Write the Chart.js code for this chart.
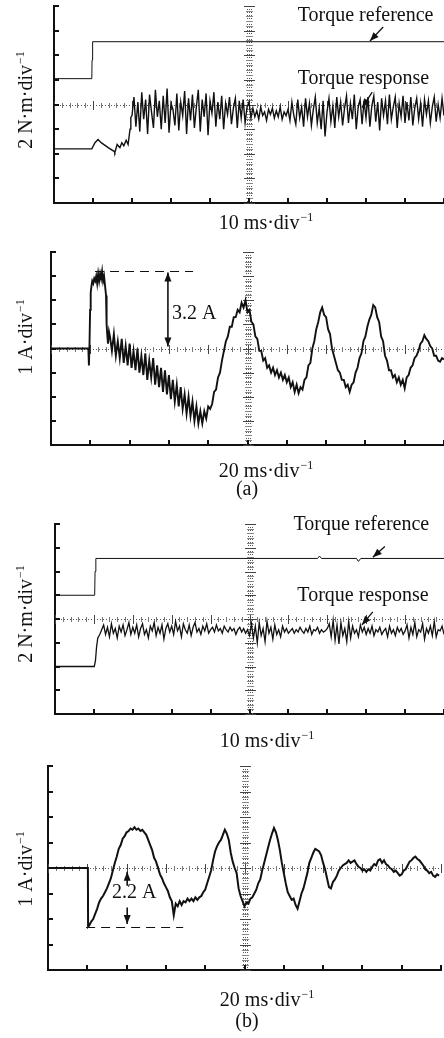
<!DOCTYPE html>
<html>
<head>
<meta charset="utf-8">
<script src="https://cdn.jsdelivr.net/npm/chart.js@4.4.0/dist/chart.umd.min.js"></script>
<style>
  html, body { margin: 0; padding: 0; background: #fff; }
  body { width: 444px; height: 1038px; position: relative; overflow: hidden; }
  canvas { position: absolute; left: 0; }
</style>
</head>
<body>
<canvas id="torqueA" width="444" height="240" style="top:0px"></canvas>
<canvas id="currentA" width="444" height="265" style="top:240px"></canvas>
<canvas id="torqueB" width="444" height="245" style="top:505px"></canvas>
<canvas id="currentB" width="444" height="288" style="top:750px"></canvas>
<script>
// ---- (a) torque, ms / N·m ----
const refATime = [0, 9.7, 9.75, 9.9, 100];
const refAValue = [2.1, 2.1, 3.6, 5.1, 5.1];

const respAHeadTime = [0, 9.7, 10.5, 11.3, 12.1, 13.9, 15.4, 15.6, 16.2, 16.9, 17.4, 17.9, 18.5, 19.0, 19.5, 19.7];
const respAHeadValue = [-3.6, -3.6, -3.1, -2.85, -3.1, -3.5, -3.8, -3.9, -3.25, -3.5, -3.1, -3.35, -2.9, -3.25, -2.0, -1.05];
// sampled every 0.5 ms from 20 ms
const respANoiseStart = 20;
const respANoiseStep = 0.5;
const respANoise = [
  -0.9, 0.6, -1.8, 0.2, -2.2, 1.0, -1.2, 0.4, -2.4, 0.8, -0.6, -1.9, 1.2, -1.0, 0.3, -2.0, 0.7, -1.5, 1.3, -2.3, 0.1,
  -0.4, -1.7, 0.9, -2.1, 0.2, -0.9, 1.1, -2.4, 0.5, -1.3, 0.8, -1.9, -0.2, 1.2, -2.2, 0.4, -1.0, 0.9, -2.5, 0.3,
  -0.7, 1.0, -1.8, 0.2, -1.2, 0.7, -2.0, 0.1, -0.8, 0.6, -1.6, -0.3, 0.5, -1.9, 0.3, -1.1, 0.4, -1.5, -0.2, 0.2,
  -1.1, -0.3, -1.0, -0.5, -1.2, -0.2, -0.9, -0.6, -1.3, -0.4, -0.8, -0.3, -1.1, -0.5, -1.0, -0.2, -1.2, -0.6, -0.9, -0.4,
  -1.3, 0.2, -0.9, -1.6, 0.4, -1.1, -0.2, -1.8, 0.5, -1.0, 0.1, -1.7, -0.4, 0.6, -1.5, -0.3, -2.0, 0.3, -2.6, -0.6,
  0.5, -1.4, -0.1, -1.9, 0.6, -1.0, 0.2, -1.7, -0.3, 0.7, -1.5, 0.1, -1.2, 0.8, -2.0, -0.2, 0.4, -1.6, 0.3, -1.1,
  0.6, -1.8, -0.1, 0.7, -1.4, 0.2, -2.1, 0.5, -0.9, 0.3, -1.6, 0.8, -1.2, -0.2, 0.6, -1.9, 0.1, -1.0, 0.7, -1.5,
  0.2, -1.3, 0.6, -1.7, -0.3, 0.5, -1.2, 0.1, -1.8, 0.4, -0.8, 0.3, -1.5, -0.2, 0.6, -1.4, 0.0, -1.1, 0.5, -0.9
];

// ---- (a) current, ms / A ----
const curAHeadTime = [0, 19.0, 19.3, 19.6, 19.9, 20.2, 20.6, 21.0, 21.5, 22.0, 22.5, 23.0, 23.5, 24.0, 24.5, 25.0, 25.5, 26.0, 26.5, 27.0, 27.5, 28.0, 28.3, 28.6, 29.0, 29.5];
const curAHeadValue = [0, 0, -0.7, 0.2, 1.6, 2.3, 2.6, 2.8, 2.7, 2.9, 2.8, 3.0, 2.7, 3.1, 2.8, 3.1, 2.9, 3.2, 2.8, 3.0, 2.6, 2.2, 1.0, 0.6, 0.2, 0.7];
// sampled every 1 ms from 30 ms
const curATailStart = 30;
const curATailStep = 1;
const curATail = [
  0.5, -0.1, 0.6, -0.3, 0.3, -0.4, 0.4, -0.6, 0.1, -0.7,
  0.2, -0.8, -0.1, -0.9, 0.0, -1.0, -0.3, -1.1, -0.2, -1.3,
  -0.5, -1.2, -0.4, -1.5, -0.7, -1.6, -0.8, -1.8, -0.9, -1.9,
  -1.1, -2.1, -1.3, -2.2, -1.5, -2.4, -1.6, -2.5, -1.9, -2.7,
  -2.0, -2.8, -2.2, -3.0, -2.4, -3.1, -2.6, -3.1, -2.6, -2.9,
  -2.4, -2.5,
  -2.3, -1.8, -1.7, -1.2, -1.0, -0.5, -0.1, 0.3, 0.5, 0.9,
  0.9, 1.3, 1.3, 1.6, 1.5, 1.9, 1.7, 2.0, 1.5, 1.6,
  1.1, 1.0, 0.5, 0.4, -0.1, -0.1, -0.5, -0.4, -0.8, -0.7,
  -1.0, -0.8, -1.1, -0.9, -1.2, -1.0, -1.3, -1.1, -1.4, -1.2,
  -1.6, -1.4, -1.8, -1.5, -1.85, -1.6, -1.7, -1.3, -1.2, -0.7,
  -0.6, 0.0, 0.3, 0.8, 1.1, 1.5, 1.7, 1.4, 1.3, 0.8,
  0.6, 0.0, -0.3, -0.6, -0.9, -1.0, -1.3, -1.3, -1.6, -1.5,
  -1.8, -1.5, -1.4, -1.0, -0.8, -0.4, -0.2, 0.3, 0.5, 0.9,
  1.2, 1.4, 1.8, 1.7, 1.3, 1.1, 0.5, 0.3, -0.3, -0.5,
  -0.9, -0.9, -1.2, -1.1, -1.4, -1.2, -1.5, -1.3, -1.65, -1.2,
  -1.1, -0.8, -0.7, -0.4, -0.3, -0.1, 0.2, 0.3, 0.55, 0.4,
  0.3, 0.1, 0.0, -0.3, -0.3, -0.5, -0.55, -0.4, -0.45
];

// ---- (b) torque, ms / N·m ----
const refBTime = [0, 10.2, 10.3, 10.5, 67.5, 68, 68.5, 77.5, 78, 78.6, 100];
const refBValue = [2.0, 2.0, 4.0, 5.1, 5.1, 5.3, 5.1, 5.1, 4.85, 5.1, 5.1];

const respBHeadTime = [0, 10.1, 10.4, 10.7, 11.0, 11.5];
const respBHeadValue = [-4.0, -4.0, -3.5, -2.3, -1.6, -1.3];
// sampled every 0.5 ms from 12 ms
const respBNoiseStart = 12;
const respBNoiseStep = 0.5;
const respBNoise = [
  -0.9, -0.5, -1.3, -0.7, -1.5, -0.4, -1.2, -0.8, -1.6, -0.6, -1.1, -0.5, -1.4, -0.9, -0.3, -1.3, -0.7,
  -1.2, -0.5, -1.5, -0.8, -0.4, -1.3, -0.9, -1.6, -0.6, -1.0, -0.3, -1.4, -0.7, -1.2, -0.5, -1.7, -0.8, -0.4, -1.1, -0.6,
  -1.3, -0.2, -1.0, -0.6, -1.5, -0.4, -0.9, -1.2, -0.5, -1.4, -0.7, -0.3, -1.1, -0.8, -1.3, -0.6, -1.0, -0.4, -1.2, -0.9,
  -0.7, -1.1, -0.5, -1.0, -0.8, -1.2, -0.6, -0.9, -1.1, -0.7, -1.0, -0.8, -1.3, -0.9, -0.7, -1.1, -0.8, -1.2, -0.9, -1.4,
  -0.4, -1.6, -0.6, -2.0, -0.3, -1.4, -0.8, -1.9, -0.2, -1.2, -0.7, -1.7, -0.5, -1.3, -0.9, -1.5, -0.6, -1.1, -0.8, -1.2,
  -1.0, -0.8, -1.2, -0.9, -1.1, -0.7, -1.0, -1.2, -0.8, -1.1, -0.6, -1.3, -0.9, -1.0, -0.7, -1.2, -0.9, -1.1, -1.0, -0.8,
  -0.4, -1.5, -0.1, -1.8, -0.5, -2.1, -0.3, -1.4, -0.8, -1.9, -0.2, -1.6, -0.6, -1.2, -0.9, -1.5, -0.5, -1.1, -0.7, -1.3,
  -0.8, -1.2, -0.6, -1.4, -0.9, -1.1, -0.7, -1.3, -1.0, -0.8, -1.5, -0.6, -1.2, -0.9, -1.4, -0.7, -1.1, -0.8, -1.3, -1.0,
  -0.5, -1.6, -0.7, -1.3, -0.3, -1.5, -0.9, -1.1, -0.4, -1.7, -0.8, -1.2, -0.6, -1.4, -0.2, -1.5, -0.9, -1.0, -0.6, -1.3
];

// ---- (b) current, ms / A ----
const curBHeadTime = [0, 20.3, 20.4];
const curBHeadValue = [0, 0, -2.3];
// sampled every 1 ms from 21 ms
const curBTailStart = 21;
const curBTailStep = 1;
const curBTail = [
  -2.25, -2.1, -2.0, -1.8, -1.6, -1.35, -1.2, -1.1, -0.95, -0.8,
  -0.6, -0.4, -0.1, 0.2, 0.45, 0.75, 0.9, 1.15, 1.25, 1.4,
  1.45, 1.55, 1.5, 1.6, 1.5, 1.55, 1.45, 1.5, 1.4, 1.3,
  1.1, 0.9, 0.7, 0.4, 0.25, 0.0, -0.25, -0.4, -0.6, -0.75,
  -0.9, -1.15, -1.3, -1.85, -1.4, -1.5, -1.3, -1.45, -1.3, -1.35,
  -1.2, -1.3, -1.2, -1.3, -1.15, -1.25, -1.15, -1.1, -0.95, -0.85,
  -0.6, -0.35, -0.1, 0.3, 0.65, 0.85, 1.0, 1.1, 1.3, 1.5,
  1.35, 1.1, 0.6, 0.25, 0.0, -0.2, -0.8, -1.1, -1.3, -1.5,
  -1.35, -1.4, -1.2, -1.15, -1.0, -0.85, -0.6, -0.45, -0.1, 0.2,
  0.5, 0.8, 1.1, 1.35, 1.57, 1.4, 1.1, 0.7, 0.2, -0.2,
  -0.6, -0.95, -1.1, -1.25, -1.2, -1.45, -1.6, -1.3, -1.0, -0.8,
  -0.5, -0.2, 0.2, 0.4, 0.6, 0.75, 0.7, 0.65, 0.5, 0.2,
  -0.05, -0.4, -0.75, -0.8, -0.55, -0.45, -0.3, -0.1, 0.0, 0.1,
  0.15, 0.2, 0.3, 0.2, 0.25, 0.3, 0.15, 0.05, 0.0, -0.1,
  -0.05, -0.15, -0.05, -0.1, 0.05, 0.15, 0.1, 0.3, 0.35, 0.2,
  0.3, 0.15, 0.1, 0.0, -0.05, -0.15, -0.1, -0.2, -0.3, -0.25,
  -0.1, -0.05, 0.1, 0.25, 0.3, 0.4, 0.45, 0.35, 0.3, 0.2,
  0.1, -0.05, -0.1, -0.2, -0.15, -0.3, -0.35, -0.25, -0.3
];

const FONT = '"Liberation Serif", "Times New Roman", serif';

function pairs(times, values) {
  return times.map((t, i) => ({ x: t, y: values[i] }));
}
function sampled(start, step, values) {
  return values.map((v, i) => ({ x: start + i * step, y: v }));
}

// text with a small raised "-1" exponent, centred on (0,0) of current transform
function supText(ctx, main, sup, size) {
  ctx.font = size + 'px ' + FONT;
  const w1 = ctx.measureText(main).width;
  ctx.font = Math.round(size * 0.6) + 'px ' + FONT;
  const w2 = ctx.measureText(sup).width;
  const x0 = -(w1 + w2 + 1) / 2;
  ctx.textAlign = 'left';
  ctx.textBaseline = 'alphabetic';
  ctx.font = size + 'px ' + FONT;
  ctx.fillText(main, x0, size * 0.35);
  ctx.font = Math.round(size * 0.6) + 'px ' + FONT;
  ctx.fillText(sup, x0 + w1 + 1, size * 0.35 - size * 0.42);
}

function seg(ctx, x1, y1, x2, y2) {
  ctx.beginPath(); ctx.moveTo(x1, y1); ctx.lineTo(x2, y2); ctx.stroke();
}

function head(ctx, fx, fy, tx, ty) {
  const a = Math.atan2(ty - fy, tx - fx);
  const L = 9, W = 3.5;
  ctx.beginPath();
  ctx.moveTo(tx, ty);
  ctx.lineTo(tx - L * Math.cos(a) + W * Math.sin(a), ty - L * Math.sin(a) - W * Math.cos(a));
  ctx.lineTo(tx - L * Math.cos(a) - W * Math.sin(a), ty - L * Math.sin(a) + W * Math.cos(a));
  ctx.closePath();
  ctx.fill();
}

const scopePlugin = {
  id: 'scope',
  beforeDatasetsDraw(chart) {
    const { ctx, chartArea: a, scales: { x, y } } = chart;
    const o = chart.options.plugins.scope;
    const cx = Math.round(x.getPixelForValue((x.min + x.max) / 2));
    const cy = Math.round(y.getPixelForValue(0));
    ctx.save();
    ctx.strokeStyle = '#555';
    ctx.lineWidth = 1;
    ctx.setLineDash([1, 2]);
    seg(ctx, a.left, cy + 0.5, a.right, cy + 0.5);
    [-2, 0, 2].forEach(d => seg(ctx, cx + d + 0.5, a.top, cx + d + 0.5, a.bottom));
    ctx.setLineDash([]);
    // minor marks along the cross
    const xs = o.xDiv / 5, ys = o.yDiv / 5;
    for (let i = 0; i <= Math.round((x.max - x.min) / xs); i++) {
      const px = Math.round(x.getPixelForValue(x.min + i * xs)) + 0.5;
      const h = i % 5 === 0 ? 4 : 2;
      ctx.strokeStyle = i % 5 === 0 ? '#444' : '#777';
      seg(ctx, px, cy - h, px, cy + h + 1);
    }
    for (let i = 0; i <= Math.round((y.max - y.min) / ys); i++) {
      const py = Math.round(y.getPixelForValue(y.min + i * ys)) + 0.5;
      const w = i % 5 === 0 ? 5 : 3;
      ctx.strokeStyle = i % 5 === 0 ? '#444' : '#888';
      seg(ctx, cx - w, py, cx + w + 1, py);
    }
    ctx.restore();
  },
  afterDraw(chart) {
    const { ctx, chartArea: a, scales: { x, y } } = chart;
    const o = chart.options.plugins.scope;
    ctx.save();
    // inward axis ticks
    ctx.strokeStyle = '#111';
    ctx.lineWidth = 2;
    x.ticks.forEach(t => {
      const px = Math.round(x.getPixelForValue(t.value));
      if (px - a.left < 3) return;
      seg(ctx, px, a.bottom, px, a.bottom - 5);
    });
    y.ticks.forEach(t => {
      const py = Math.round(y.getPixelForValue(t.value));
      if (a.bottom - py < 3) return;
      seg(ctx, a.left, py, a.left + 5, py);
    });
    // annotations in data units
    ctx.fillStyle = '#111';
    ctx.strokeStyle = '#111';
    (o.notes || []).forEach(n => {
      if (n.type === 'text') {
        ctx.font = '20px ' + FONT;
        ctx.textAlign = 'left';
        ctx.textBaseline = 'middle';
        ctx.fillText(n.text, x.getPixelForValue(n.x), y.getPixelForValue(n.y));
      } else if (n.type === 'dash') {
        ctx.lineWidth = 1;
        ctx.setLineDash([9, 6]);
        const py = Math.round(y.getPixelForValue(n.y)) + 0.5;
        seg(ctx, x.getPixelForValue(n.x1), py, x.getPixelForValue(n.x2), py);
        ctx.setLineDash([]);
      } else if (n.type === 'arrow') {
        const x1 = x.getPixelForValue(n.x1), y1 = y.getPixelForValue(n.y1);
        const x2 = x.getPixelForValue(n.x2), y2 = y.getPixelForValue(n.y2);
        ctx.lineWidth = n.width || 1.5;
        seg(ctx, x1, y1, x2, y2);
        head(ctx, x1, y1, x2, y2);
        if (n.both) head(ctx, x2, y2, x1, y1);
      }
    });
    // axis captions (canvas pixels)
    ctx.fillStyle = '#111';
    const L = o.labels;
    ctx.save();
    ctx.translate(L.y[0], L.y[1]);
    ctx.rotate(-Math.PI / 2);
    supText(ctx, L.yText, '\u22121', 20);
    ctx.restore();
    ctx.save();
    ctx.translate(L.x[0], L.x[1]);
    supText(ctx, L.xText, '\u22121', 20);
    ctx.restore();
    if (L.cap) {
      ctx.font = '20px ' + FONT;
      ctx.textAlign = 'center';
      ctx.textBaseline = 'middle';
      ctx.fillText(L.cap[2], L.cap[0], L.cap[1]);
    }
    ctx.restore();
  }
};

function makePanel(id, pad, xMax, xDiv, yMax, yDiv, datasets, notes, labels) {
  return new Chart(document.getElementById(id), {
    type: 'line',
    data: { datasets },
    options: {
      responsive: false,
      animation: false,
      layout: { padding: pad },
      elements: { point: { radius: 0 }, line: { tension: 0 } },
      plugins: {
        legend: { display: false },
        tooltip: { enabled: false },
        scope: { xDiv, yDiv, notes, labels }
      },
      scales: {
        x: {
          type: 'linear', min: 0, max: xMax,
          ticks: { display: false, stepSize: xDiv },
          grid: { display: false, drawTicks: false },
          border: { display: true, color: '#111', width: 2 }
        },
        y: {
          type: 'linear', min: -yMax, max: yMax,
          ticks: { display: false, stepSize: yDiv },
          grid: { display: false, drawTicks: false },
          border: { display: true, color: '#111', width: 2 }
        }
      }
    },
    plugins: [scopePlugin]
  });
}

const thin = (data, w) => ({ data, borderColor: '#111', borderWidth: w, fill: false });

makePanel('torqueA', { left: 54, top: 6, right: 0, bottom: 37 }, 100, 10, 8, 2, [
  thin(pairs(refATime, refAValue), 1),
  thin(pairs(respAHeadTime, respAHeadValue).concat(sampled(respANoiseStart, respANoiseStep, respANoise)), 1.4)
], [
  { type: 'text', x: 62.5, y: 7.2, text: 'Torque reference' },
  { type: 'text', x: 62.5, y: 2.1, text: 'Torque response' },
  { type: 'arrow', x1: 84.4, y1: 6.3, x2: 81, y2: 5.15, width: 1.3 },
  { type: 'arrow', x1: 81.6, y1: 1.0, x2: 79, y2: -0.25, width: 1.3 }
], { xText: '10 ms\u00b7div', x: [266, 222], yText: '2 N\u00b7m\u00b7div', y: [25, 100] });

makePanel('currentA', { left: 51, top: 12, right: 0, bottom: 60 }, 200, 20, 4, 1, [
  thin(pairs(curAHeadTime, curAHeadValue).concat(sampled(curATailStart, curATailStep, curATail)), 1.9)
], [
  { type: 'dash', x1: 22.4, x2: 72.3, y: 3.2 },
  { type: 'arrow', x1: 59.5, y1: 0.08, x2: 59.5, y2: 3.15, both: true, width: 1.6 },
  { type: 'text', x: 61.6, y: 1.45, text: '3.2 A' }
], { xText: '20 ms\u00b7div', x: [266, 230], yText: '1 A\u00b7div', y: [25, 97], cap: [247, 250, '(a)'] });

makePanel('torqueB', { left: 55, top: 19, right: 0, bottom: 36 }, 100, 10, 8, 2, [
  thin(pairs(refBTime, refBValue), 1),
  thin(pairs(respBHeadTime, respBHeadValue).concat(sampled(respBNoiseStart, respBNoiseStep, respBNoise)), 1.3)
], [
  { type: 'text', x: 61.3, y: 7.9, text: 'Torque reference' },
  { type: 'text', x: 62.3, y: 1.95, text: 'Torque response' },
  { type: 'arrow', x1: 84.8, y1: 6.1, x2: 81.7, y2: 5.2, width: 1.3 },
  { type: 'arrow', x1: 81.7, y1: 0.6, x2: 78.9, y2: -0.5, width: 1.3 }
], { xText: '10 ms\u00b7div', x: [267, 235], yText: '2 N\u00b7m\u00b7div', y: [25, 109] });

makePanel('currentB', { left: 48, top: 16, right: 3, bottom: 68 }, 200, 20, 4, 1, [
  thin(pairs(curBHeadTime, curBHeadValue).concat(sampled(curBTailStart, curBTailStep, curBTail)), 2)
], [
  { type: 'dash', x1: 19.4, x2: 68.8, y: -2.3 },
  { type: 'arrow', x1: 40.3, y1: -0.7, x2: 40.3, y2: -0.15, width: 1.6 },
  { type: 'arrow', x1: 40.3, y1: -1.55, x2: 40.3, y2: -2.2, width: 1.6 },
  { type: 'text', x: 32.6, y: -0.98, text: '2.2 A' }
], { xText: '20 ms\u00b7div', x: [267, 249], yText: '1 A\u00b7div', y: [25, 119], cap: [247, 272, '(b)'] });
</script>
</body>
</html>
